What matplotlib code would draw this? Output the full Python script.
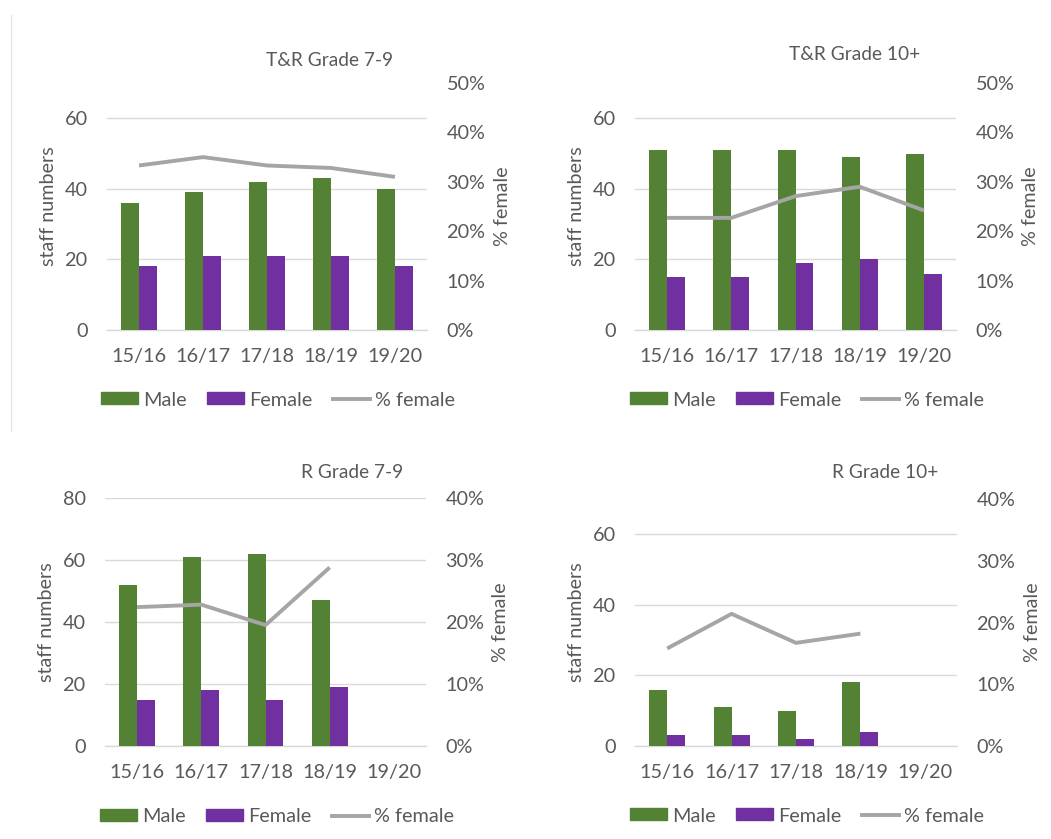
import numpy as np
import matplotlib
matplotlib.use("Agg")
import matplotlib.pyplot as plt
from matplotlib.patches import Patch
from matplotlib.lines import Line2D

plt.rcParams['font.family'] = ['Lato', 'DejaVu Sans']

years = ["15/16", "16/17", "17/18", "18/19", "19/20"]

# T&R Grade 7-9
tr79_male = [36, 39, 42, 43, 40]
tr79_female = [18, 21, 21, 21, 18]
tr79_pct = [0.333, 0.350, 0.333, 0.328, 0.310]

# T&R Grade 10+
tr10_male = [51, 51, 51, 49, 50]
tr10_female = [15, 15, 19, 20, 16]
tr10_pct = [0.227, 0.227, 0.271, 0.290, 0.242]

# R Grade 7-9 (no 19/20 figures)
r79_male = [52, 61, 62, 47, np.nan]
r79_female = [15, 18, 15, 19, np.nan]
r79_pct = [0.224, 0.228, 0.195, 0.288, np.nan]

# R Grade 10+ (no 19/20 figures)
r10_male = [16, 11, 10, 18, np.nan]
r10_female = [3, 3, 2, 4, np.nan]
r10_pct = [0.158, 0.214, 0.167, 0.182, np.nan]

GREEN = "#548235"
PURPLE = "#7030A0"
LINE_GREY = "#A5A5A5"
TEXT = "#595959"
GRID = "#D9D9D9"
FS = 14.3

W, H = 1051, 839
fig = plt.figure(figsize=(W / 100, H / 100), dpi=100)


def px_axes(x0, y0, x1, y1):
    return fig.add_axes([x0 / W, 1 - y1 / H, (x1 - x0) / W, (y1 - y0) / H])


def panel(box, title, title_xy, male, female, pct, ymax, yticks, pmax, pticks,
          legend_xy):
    ax = px_axes(*box)
    x = np.arange(len(years))
    bw = 0.28
    ax.bar(x - bw / 2, male, bw, color=GREEN, label="Male", zorder=3)
    ax.bar(x + bw / 2, female, bw, color=PURPLE, label="Female", zorder=3)
    ax.set_xlim(-0.5, len(years) - 0.5)
    ax.set_ylim(0, ymax)
    ax.set_yticks(yticks)
    ax.set_xticks(x)
    ax.set_xticklabels(years)
    ax.grid(axis="y", color=GRID, lw=1.0, zorder=0)
    for s in ("top", "left", "right"):
        ax.spines[s].set_visible(False)
    ax.spines["bottom"].set_color(GRID)
    ax.spines["bottom"].set_linewidth(1.0)
    ax.tick_params(axis="both", length=0, labelsize=FS, labelcolor=TEXT)
    ax.tick_params(axis="y", pad=14)
    ax.tick_params(axis="x", pad=13)
    ax.set_axisbelow(True)

    ax2 = ax.twinx()
    ax2.plot(x, pct, color=LINE_GREY, lw=2.8, solid_capstyle="butt",
             label="% female", zorder=4)
    ax2.set_ylim(0, pmax)
    ax2.set_yticks(pticks)
    ax2.set_yticklabels([f"{int(round(t * 100))}%" for t in pticks])
    for s in ("top", "left", "right", "bottom"):
        ax2.spines[s].set_visible(False)
    ax2.tick_params(axis="y", length=0, labelsize=FS, labelcolor=TEXT, pad=14)

    x0, y0, x1, y1 = box
    cy = (y0 + y1) / 2
    fig.text((x0 - 59) / W, 1 - cy / H, "staff numbers", rotation=90,
             ha="center", va="center", fontsize=14.2, color=TEXT)
    fig.text((x1 + 75) / W, 1 - cy / H, "% female", rotation=90,
             ha="center", va="center", fontsize=14.2, color=TEXT)
    fig.text(title_xy[0] / W, 1 - title_xy[1] / H, title, ha="center",
             va="center", fontsize=13.8, color=TEXT)

    handles = [Patch(color=GREEN), Patch(color=PURPLE),
               Line2D([], [], color=LINE_GREY, lw=2.8)]
    fig.legend(handles, ["Male", "Female", "% female"], ncol=3,
               loc="center", bbox_to_anchor=(legend_xy[0] / W, 1 - legend_xy[1] / H),
               frameon=False, fontsize=FS, labelcolor=TEXT,
               handlelength=1.86, handleheight=0.55, handletextpad=0.25,
               columnspacing=1.05, borderpad=0, borderaxespad=0)


panel((107, 83, 427, 330), "T&R Grade 7-9", (330, 61),
      tr79_male, tr79_female, tr79_pct, 70, [0, 20, 40, 60],
      0.5, [0, 0.1, 0.2, 0.3, 0.4, 0.5], (278, 400))
panel((635, 83, 956, 330), "T&R Grade 10+", (855, 55),
      tr10_male, tr10_female, tr10_pct, 70, [0, 20, 40, 60],
      0.5, [0, 0.1, 0.2, 0.3, 0.4, 0.5], (807, 400))
panel((105, 498, 426, 746), "R Grade 7-9", (352, 472),
      r79_male, r79_female, r79_pct, 80, [0, 20, 40, 60, 80],
      0.4, [0, 0.1, 0.2, 0.3, 0.4], (277, 817))
panel((635, 499, 957, 746), "R Grade 10+", (885, 472),
      r10_male, r10_female, r10_pct, 70, [0, 20, 40, 60],
      0.4, [0, 0.1, 0.2, 0.3, 0.4], (807, 816))

# thin frame edge on the left of the first chart
fig.add_artist(Line2D([10.5 / W, 10.5 / W], [1 - 15 / H, 1 - 431 / H],
                      transform=fig.transFigure, color="#E6E6E6", lw=1.0))

fig.savefig("out.png", dpi=100, facecolor="white")
